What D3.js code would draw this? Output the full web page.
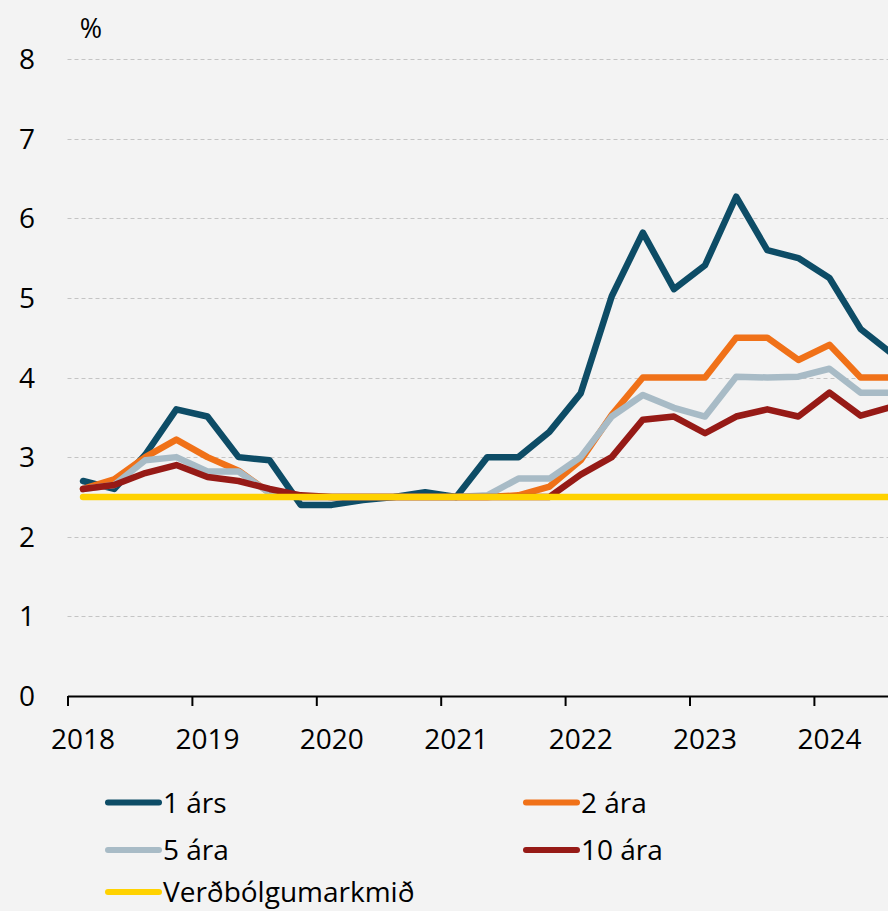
<!DOCTYPE html>
<html>
<head>
<meta charset="utf-8">
<script src="https://cdn.jsdelivr.net/npm/d3@7"></script>
<style>
  html, body { margin: 0; padding: 0; background: #f3f3f3; }
  svg { display: block; }
  text { font-family: "Open Sans", "Noto Sans", sans-serif; fill: #000; }
</style>
</head>
<body>
<svg id="chart" width="888" height="911"></svg>
<script>
// ---- Data ----
const quarters = [
  "2018Q1","2018Q2","2018Q3","2018Q4",
  "2019Q1","2019Q2","2019Q3","2019Q4",
  "2020Q1","2020Q2","2020Q3","2020Q4",
  "2021Q1","2021Q2","2021Q3","2021Q4",
  "2022Q1","2022Q2","2022Q3","2022Q4",
  "2023Q1","2023Q2","2023Q3","2023Q4",
  "2024Q1","2024Q2","2024Q3"
];
const ars1  = [2.7, 2.6, 3.03, 3.6, 3.51, 3.0, 2.96, 2.4, 2.4, 2.46, 2.5, 2.56, 2.5, 3.0, 3.0, 3.32, 3.8, 5.02, 5.82, 5.11, 5.41, 6.27, 5.6, 5.5, 5.25, 4.61, 4.3];
const ara2  = [2.6, 2.72, 3.0, 3.22, 3.0, 2.83, 2.55, 2.5, 2.5, 2.5, 2.5, 2.5, 2.5, 2.5, 2.52, 2.63, 2.96, 3.53, 4.0, 4.0, 4.0, 4.5, 4.5, 4.22, 4.41, 4.0, 4.0];
const ara5  = [2.6, 2.65, 2.96, 3.0, 2.82, 2.82, 2.55, 2.5, 2.5, 2.5, 2.5, 2.5, 2.5, 2.52, 2.73, 2.73, 3.0, 3.51, 3.78, 3.62, 3.51, 4.01, 4.0, 4.01, 4.11, 3.81, 3.81];
const ara10 = [2.6, 2.65, 2.8, 2.9, 2.75, 2.7, 2.6, 2.52, 2.5, 2.5, 2.5, 2.5, 2.5, 2.5, 2.5, 2.5, 2.78, 3.0, 3.47, 3.51, 3.3, 3.51, 3.6, 3.51, 3.81, 3.52, 3.63];
const target = [2.5, 2.5, 2.5, 2.5, 2.5, 2.5, 2.5, 2.5, 2.5, 2.5, 2.5, 2.5, 2.5, 2.5, 2.5, 2.5, 2.5, 2.5, 2.5, 2.5, 2.5, 2.5, 2.5, 2.5, 2.5, 2.5, 2.5];

const seriesNames  = ["1 árs", "2 ára", "5 ára", "10 ára", "Verðbólgumarkmið"];
const seriesColors = ["#0d4c66", "#f07118", "#a8bbc6", "#961a16", "#ffd200"];
const yTicks = [0, 1, 2, 3, 4, 5, 6, 7, 8];
const xYears = [2018, 2019, 2020, 2021, 2022, 2023, 2024];
const yUnit = "%";

// ---- Layout ----
const svg = d3.select("#chart");
const W = 888, H = 911;
svg.append("rect").attr("width", W).attr("height", H).attr("fill", "#f3f3f3");

const x0 = 67.5, yearW = 124.4;
const x = d3.scaleLinear().domain([2018, 2025]).range([x0, x0 + 7 * yearW]);
const y = d3.scaleLinear().domain([0, 8]).range([696, 59]);

const qPos = q => {
  const yr = +q.slice(0, 4), qq = +q.slice(5);
  return yr + (qq - 0.5) / 4;
};

// gridlines
const grid = svg.append("g");
grid.selectAll("line").data(yTicks.filter(d => d > 0)).join("line")
  .attr("x1", x0).attr("x2", W)
  .attr("y1", d => Math.round(y(d)) + 0.5).attr("y2", d => Math.round(y(d)) + 0.5)
  .attr("stroke", "#c4c4c4").attr("stroke-width", 1).attr("stroke-dasharray", "4,3");

// y labels
svg.append("g").selectAll("text").data(yTicks).join("text")
  .attr("x", 35).attr("y", d => y(d)).attr("dy", "0.36em")
  .attr("text-anchor", "end").attr("font-size", 28).text(d => d);

svg.append("text").attr("x", 91).attr("y", 28).attr("dy", "0.36em")
  .attr("text-anchor", "middle").attr("font-size", 27).text(yUnit);

// x axis
const xAxis = d3.axisBottom(x).tickValues(xYears.concat([2025])).tickSize(10).tickFormat("").tickSizeOuter(0);
const gx = svg.append("g").attr("transform", "translate(0,696)").call(xAxis);
gx.select(".domain").attr("stroke", "#000").attr("stroke-width", 2);
gx.selectAll(".tick line").attr("stroke", "#000").attr("stroke-width", 2);

svg.append("g").selectAll("text").data(xYears).join("text")
  .attr("x", d => x(d + 0.125)).attr("y", 738.5).attr("dy", "0.36em")
  .attr("text-anchor", "middle").attr("font-size", 28).text(d => d);

// lines
const all = [ars1, ara2, ara5, ara10, target];
const line = d3.line().x((d, i) => x(qPos(quarters[i]))).y(d => y(d));
const lg = svg.append("g");
all.forEach((vals, k) => {
  lg.append("path").datum(vals)
    .attr("d", line)
    .attr("fill", "none")
    .attr("stroke", seriesColors[k])
    .attr("stroke-width", 6.5)
    .attr("stroke-linejoin", "round")
    .attr("stroke-linecap", "round");
});

// legend
const legendPos = [[108, 802.5], [526, 802.5], [108, 850], [526, 850], [108, 892]];
const leg = svg.append("g");
seriesNames.forEach((name, k) => {
  const [lx, ly] = legendPos[k];
  leg.append("line").attr("x1", lx).attr("x2", lx + 51).attr("y1", ly).attr("y2", ly)
    .attr("stroke", seriesColors[k]).attr("stroke-width", 6).attr("stroke-linecap", "round");
  leg.append("text").attr("x", lx + 55).attr("y", ly).attr("dy", "0.36em")
    .attr("font-size", 28).text(name);
});
</script>
</body>
</html>
